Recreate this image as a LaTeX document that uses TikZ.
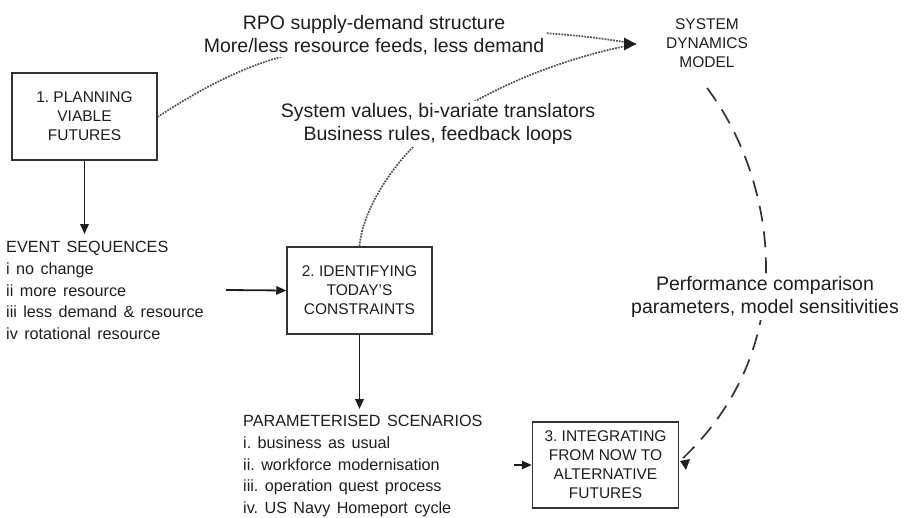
\documentclass[tikz,border=0pt]{standalone}
\usepackage{fontspec}
\setmainfont{Liberation Sans}
\usetikzlibrary{arrows.meta}
\definecolor{ink}{HTML}{1E1E1E}
\definecolor{edge}{HTML}{333333}
\frenchspacing
% list font with slightly wider word spaces
\newcommand\listfont{\fontsize{16.2}{21.8}\selectfont\spaceskip=6.4pt plus 1pt\relax}
\begin{document}
\begin{tikzpicture}[x=1pt,y=-1pt,
  stagebox/.style={draw=edge, line width=1.5pt, minimum width=145pt, minimum height=87pt,
    align=center, inner sep=0pt, font=\fontsize{15.5}{19}\selectfont, text=ink},
  listtext/.style={align=left, inner sep=0pt, anchor=north west,
    font=\listfont, text=ink},
  linklabel/.style={fill=white, align=center, inner sep=2pt, anchor=north,
    font=\fontsize{19.5}{23.5}\selectfont, text=ink},
  flow/.style={draw=ink, line width=1.8pt, -{Triangle[length=10pt,width=8.5pt]}},
  dotlink/.style={draw=edge!85, line width=1.7pt, dash pattern=on 1.8pt off 1.1pt},
  dashlink/.style={draw=edge, line width=1.7pt, dash pattern=on 16pt off 10pt},
]
\useasboundingbox (0,0) rectangle (910,517);

% stages
\node[stagebox] (plan) at (84.5,116.5) {1. PLANNING\\VIABLE\\FUTURES};
\node[stagebox] (ident) at (359.5,290.5) {2. IDENTIFYING\\TODAY’S\\CONSTRAINTS};
\node[stagebox, minimum width=146pt, minimum height=86pt] (integ) at (605.5,465)
  {3. INTEGRATING\\FROM NOW TO\\ALTERNATIVE\\FUTURES};
\node[inner sep=0pt, anchor=north, align=center, text=ink,
  font=\fontsize{15.5}{19}\selectfont] (sdm) at (707,18) {SYSTEM\\DYNAMICS\\MODEL};

% lists
\node[listtext] (events) at (6,241) {EVENT SEQUENCES\\i no change\\ii more resource\\iii less demand \& resource\\iv rotational resource};
\node[listtext] (scen) at (243,415) {PARAMETERISED SCENARIOS\\i. business as usual\\ii. workforce modernisation\\iii. operation quest process\\iv. US Navy Homeport cycle};

% solid flows
\coordinate (evtop) at (84.5,234);
\coordinate (evout) at (226,290);
\coordinate (sctop) at (359.5,409);
\coordinate (scout) at (514,465);
\draw[flow] (plan.south) -- (evtop);
\draw[flow] (evout) -- (ident.west);
\draw[flow] (ident.south) -- (sctop);
\draw[flow] (scout) -- (integ.west);

% links into the model
\coordinate (sdmin) at (636,44);
\coordinate (planout) at (157.5,117);
\coordinate (mid1) at (277,58);
\coordinate (mid2) at (415,145);
\draw[dotlink] (planout) .. controls (190,96) and (230,72) .. (mid1)
  .. controls (390,25) and (530,25) .. (sdmin);
\draw[dotlink] (ident.north) .. controls (362,215) and (385,175) .. (mid2)
  .. controls (460,100) and (550,60) .. (sdmin);
\fill[ink] (sdmin) -- ++(-12,-6.5) -- ++(0,13) -- cycle;

% link out of the model
\coordinate (sdmout) at (707,88);
\coordinate (integin) at (680,461);
\draw[dashlink] (sdmout) .. controls (770,170) and (810,340) .. (integin);
\fill[ink] (integin) -- ++(10,-2) -- ++(-4,11) -- cycle;

% labels
\node[linklabel] (lab1) at (374,13) {RPO supply-demand structure\\More/less resource feeds, less demand};
\node[linklabel] (lab2) at (438,101) {System values, bi-variate translators\\Business rules, feedback loops};
\node[linklabel] (lab3) at (765,274) {Performance comparison\\parameters, model sensitivities};
\end{tikzpicture}
\end{document}
